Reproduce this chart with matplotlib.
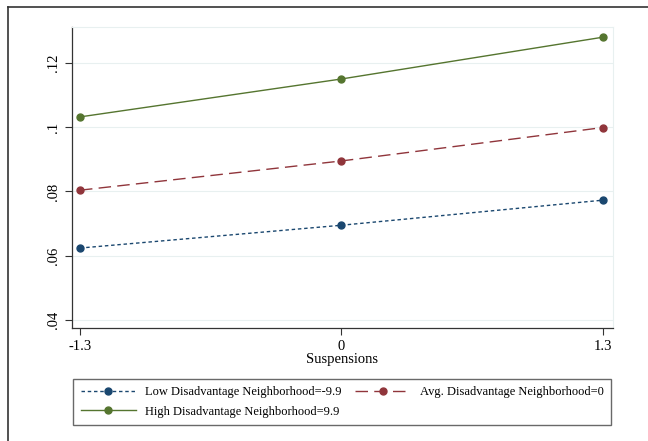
import matplotlib.pyplot as plt
from matplotlib.lines import Line2D

# values
suspensions = [-1.3, 0, 1.3]
low_vals = [0.0624, 0.0695, 0.0773]
avg_vals = [0.0804, 0.0895, 0.0999]
high_vals = [0.1032, 0.1150, 0.1280]
y_ticks = [0.04, 0.06, 0.08, 0.10, 0.12]
y_labels = [".04", ".06", ".08", ".1", ".12"]
x_labels = ["-1.3", "0", "1.3"]

plt.rcParams["font.family"] = ["Liberation Serif", "DejaVu Serif"]

fig = plt.figure(figsize=(6.48, 4.41), dpi=100)
ax = fig.add_axes([0.111, 0.256, 0.835, 0.683])

navy = "#1a476f"
maroon = "#90353b"
green = "#55752f"

ax.plot(suspensions, low_vals, color=navy, lw=1.0, ls=(0, (2.5, 2)),
        marker="o", ms=5, label="Low Disadvantage Neighborhood=-9.9")
ax.plot(suspensions, high_vals, color=green, lw=1.0, ls="-",
        marker="o", ms=5, label="High Disadvantage Neighborhood=9.9")
ax.plot(suspensions, avg_vals, color=maroon, lw=1.0, ls=(0, (9, 4.5)),
        marker="o", ms=5, label="Avg. Disadvantage Neighborhood=0")

ax.set_xlim(-1.34, 1.35)
ax.set_ylim(0.0375, 0.1312)
ax.set_xticks(suspensions)
ax.set_xticklabels(x_labels, fontsize=10.5)
ax.set_yticks(y_ticks)
ax.set_yticklabels(y_labels, fontsize=10.5, rotation=90, va="center")
ax.tick_params(direction="out", length=5, width=0.8, color="#333333")
ax.grid(axis="y", color="#e8f0f0", lw=0.8)
ax.set_axisbelow(True)

for s in ["left", "bottom"]:
    ax.spines[s].set_color("#333333")
    ax.spines[s].set_linewidth(0.9)
for s in ["top", "right"]:
    ax.spines[s].set_color("#e8f0f0")
    ax.spines[s].set_linewidth(0.8)

ax.set_xlabel("Suspensions", fontsize=10.5, labelpad=0)

leg = ax.legend(loc="center", bbox_to_anchor=(342 / 648, 1 - 402 / 441),
                bbox_transform=fig.transFigure, ncol=2, fontsize=9,
                frameon=True, fancybox=False, edgecolor="#444444",
                handlelength=4.4, handletextpad=0.75, columnspacing=1.1,
                borderpad=0.6, labelspacing=0.6, borderaxespad=0)
leg.get_frame().set_linewidth(1.0)

# outer frame (only top and left edges are visible)
fig.add_artist(Line2D([8 / 648, 8 / 648], [0, 1 - 7 / 441], transform=fig.transFigure,
                      color="#333333", lw=1.2))
fig.add_artist(Line2D([8 / 648, 1], [1 - 7 / 441, 1 - 7 / 441], transform=fig.transFigure,
                      color="#333333", lw=1.2))

fig.savefig("out.png", dpi=100)
